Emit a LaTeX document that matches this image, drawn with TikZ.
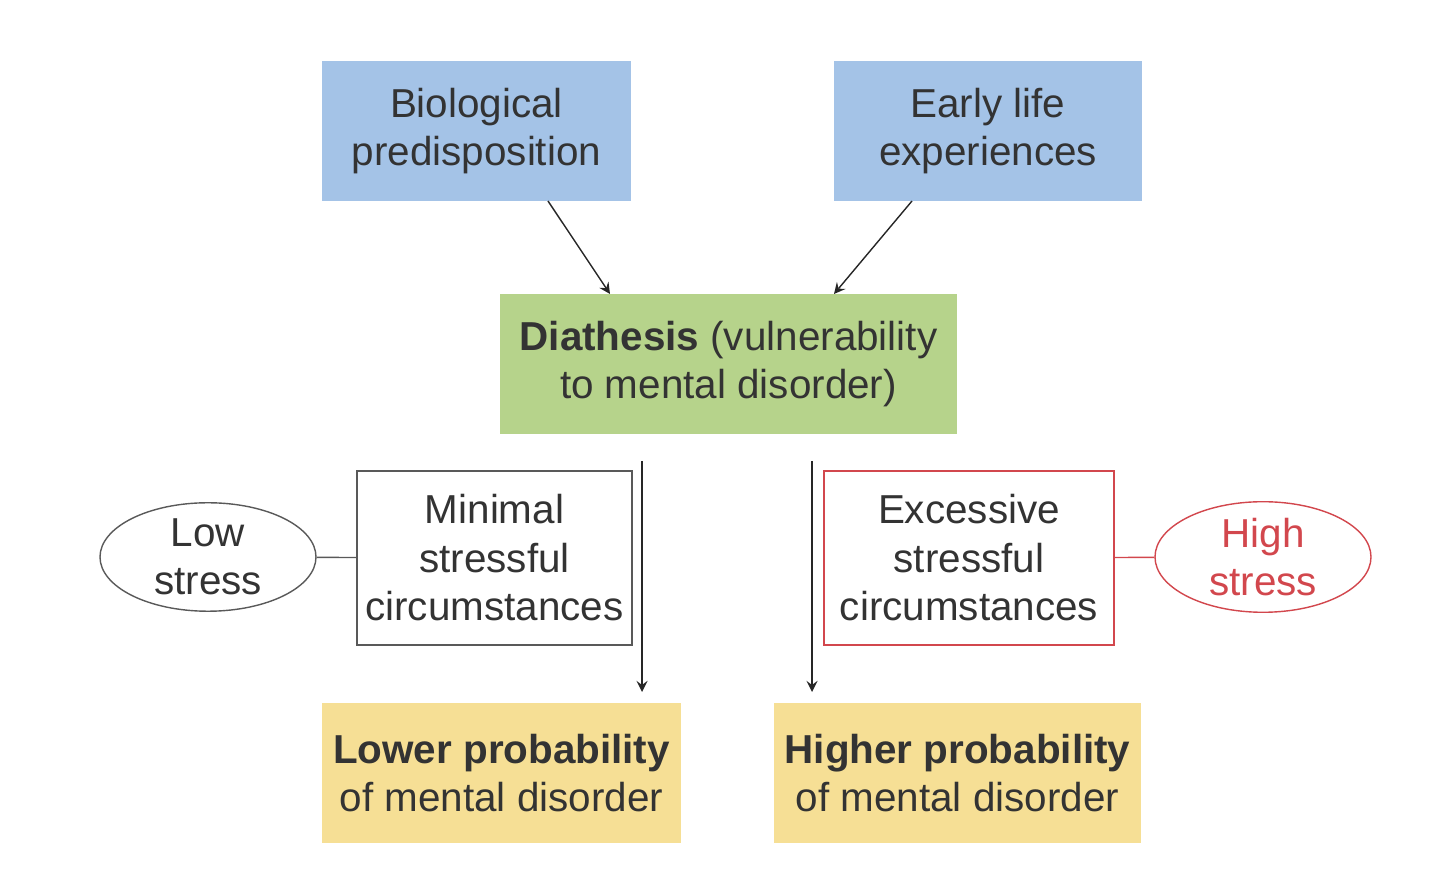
\documentclass[tikz,border=0pt]{standalone}
\usepackage{fontspec}
\setmainfont{Liberation Sans}
\usetikzlibrary{positioning,shapes.geometric}
\definecolor{boxblue}{HTML}{A4C3E7}
\definecolor{boxgreen}{HTML}{B6D38B}
\definecolor{boxyellow}{HTML}{F6DF95}
\definecolor{stressred}{HTML}{D2474D}
\tikzset{
  box/.style={draw=none, minimum height=1.4cm, align=center, inner sep=0pt},
  circ/.style={draw=gray!70!black, fill=white, minimum height=1.74cm, align=center, inner sep=0pt},
  tag/.style={ellipse, draw=gray!70!black, minimum width=2.16cm, minimum height=1.05cm, align=center, inner sep=0pt},
  arr/.style={->, draw=gray!30!black, >=stealth}
}
\begin{document}
\begin{tikzpicture}[font=\fontsize{11.5}{13.8}\selectfont, text=black!80]
    \useasboundingbox (0,0) rectangle (14.4,8.89);

    % Top
    \node[box, fill=boxblue, minimum width=3.09cm] (bio) at (4.765,7.58) {Biological\\predisposition};
    \node[box, fill=boxblue, minimum width=3.08cm] (early) at (9.88,7.58) {Early life\\experiences};
    \node[box, fill=boxgreen, minimum width=4.57cm] (diat) at (7.285,5.25) {\textbf{Diathesis} (vulnerability\\to mental disorder)};

    \draw[arr] (5.48,6.88) -- (6.10,5.95);
    \draw[arr] (9.12,6.88) -- (8.34,5.95);

    % Stress
    \node[circ, minimum width=2.75cm] (minimal) at (4.945,3.31) {Minimal\\stressful\\circumstances};
    \node[circ, draw=stressred, minimum width=2.90cm] (excess) at (9.69,3.31) {Excessive\\stressful\\circumstances};
    \node[tag] (low) at (2.08,3.32) {Low\\stress};
    \node[tag, draw=stressred, text=stressred] (high) at (12.63,3.32) {High\\stress};
    \draw[gray!70!black] (low) -- (minimal);
    \draw[stressred] (excess) -- (high);

    % Outcomes
    \node[box, fill=boxyellow, minimum width=3.59cm] (lower) at (5.015,1.16) {\textbf{Lower probability}\\of mental disorder};
    \node[box, fill=boxyellow, minimum width=3.67cm] (higher) at (9.575,1.16) {\textbf{Higher probability}\\of mental disorder};

    \coordinate (ls) at (6.42,4.28);
    \coordinate (le) at (6.42,1.97);
    \coordinate (hs) at (8.12,4.28);
    \coordinate (he) at (8.12,1.97);
    \draw[arr] (ls) -- (le);
    \draw[arr] (hs) -- (he);
\end{tikzpicture}
\end{document}
